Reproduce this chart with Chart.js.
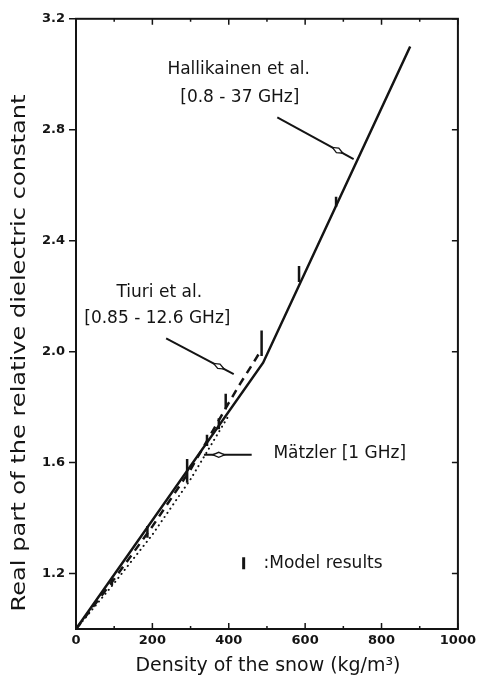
<!DOCTYPE html>
<html>
<head>
<meta charset="utf-8">
<script src="https://cdn.jsdelivr.net/npm/chart.js@4"></script>
<style>
  html, body { margin: 0; background: #fff; }
  #wrap { width: 480px; height: 677px; }
</style>
</head>
<body>
<div id="wrap"><canvas id="snowChart"></canvas></div>
<script>
const ink = "#141414";

// axis ticks
const xTicks = [0, 200, 400, 600, 800, 1000];
const xMinorTicks = [100, 300, 500, 700, 900];
const yTicks = [1.2, 1.6, 2.0, 2.4, 2.8, 3.2];

// Hallikainen et al. [0.8 - 37 GHz]
const hallDensity = [0, 490, 875];
const hallEps = [1.0, 1.96, 3.10];

// Tiuri et al. [0.85 - 12.6 GHz]
const tiuriDensity = [0, 100, 200, 300, 400, 430, 460, 480];
const tiuriEps = [1.0, 1.18, 1.37, 1.575, 1.815, 1.885, 1.95, 1.995];

// Mätzler [1 GHz]
const matzDensity = [0, 100, 200, 300, 400];
const matzEps = [1.0, 1.165, 1.34, 1.54, 1.77];

// model results: centre and half spread
const modelDensity = [94, 187, 291, 343, 374, 392, 486, 584, 681];
const modelEps = [1.17, 1.35, 1.57, 1.68, 1.74, 1.82, 2.03, 2.28, 2.54];
const modelSpread = [0.012, 0.021, 0.043, 0.02, 0.02, 0.028, 0.046, 0.029, 0.018];

const toPoints = (xs, ys) => xs.map((x, i) => ({ x, y: ys[i] }));

// texts and arrows, placed in data coordinates
const notes = [
  { text: "Hallikainen et al.", x: 426, y: 3.017, align: "center" },
  { text: "[0.8 - 37 GHz]", x: 429, y: 2.917, align: "center" },
  { text: "Tiuri et al.", x: 218, y: 2.213, align: "center" },
  { text: "[0.85 - 12.6 GHz]", x: 213, y: 2.12, align: "center" },
  { text: "Mätzler [1 GHz]", x: 517, y: 1.632, align: "left" },
  { text: ":Model results", x: 491, y: 1.237, align: "left" }
];
const arrows = [
  { from: [527, 2.845], to: [727, 2.694], at: 0.79 },
  { from: [236, 2.048], to: [413, 1.919], at: 0.78 },
  { from: [460, 1.628], to: [335, 1.628], at: 0.69 }
];

function stretchedText(ctx, text, cx, cy, size, len, rot) {
  ctx.save();
  ctx.font = size + "px 'DejaVu Sans'";
  const w = ctx.measureText(text).width;
  ctx.translate(cx, cy);
  ctx.rotate(rot);
  ctx.scale(len / w, 1);
  ctx.textAlign = "center";
  ctx.textBaseline = "middle";
  ctx.fillText(text, 0, 0);
  ctx.restore();
}

const paper = {
  id: "paper",
  afterDraw(chart) {
    const { ctx, chartArea: a, scales: { x, y } } = chart;
    const px = v => x.getPixelForValue(v);
    const py = v => y.getPixelForValue(v);
    ctx.save();
    ctx.strokeStyle = ink;
    ctx.fillStyle = ink;

    // frame
    ctx.lineWidth = 2;
    ctx.strokeRect(a.left, a.top, a.right - a.left, a.bottom - a.top);

    // tick marks
    ctx.beginPath();
    xTicks.concat(xMinorTicks).forEach(v => {
      const len = xTicks.includes(v) ? 6 : 3;
      ctx.moveTo(px(v), a.bottom); ctx.lineTo(px(v), a.bottom - len);
      ctx.moveTo(px(v), a.top); ctx.lineTo(px(v), a.top + len);
    });
    yTicks.forEach(v => {
      ctx.moveTo(a.left, py(v)); ctx.lineTo(a.left - 7, py(v));
      ctx.moveTo(a.right, py(v)); ctx.lineTo(a.right - 6, py(v));
    });
    ctx.lineWidth = 1.5;
    ctx.stroke();

    // arrows with open diamond heads
    arrows.forEach(ar => {
      const x0 = px(ar.from[0]), y0 = py(ar.from[1]);
      const x1 = px(ar.to[0]), y1 = py(ar.to[1]);
      ctx.beginPath();
      ctx.moveTo(x0, y0); ctx.lineTo(x1, y1);
      ctx.lineWidth = 2;
      ctx.stroke();
      const d = Math.hypot(x1 - x0, y1 - y0);
      const ux = (x1 - x0) / d, uy = (y1 - y0) / d;
      const cx = x0 + (x1 - x0) * ar.at, cy = y0 + (y1 - y0) * ar.at;
      ctx.beginPath();
      ctx.moveTo(cx - ux * 6, cy - uy * 6);
      ctx.lineTo(cx - uy * 2.5, cy + ux * 2.5);
      ctx.lineTo(cx + ux * 6, cy + uy * 6);
      ctx.lineTo(cx + uy * 2.5, cy - ux * 2.5);
      ctx.closePath();
      ctx.fillStyle = "#fff";
      ctx.fill();
      ctx.lineWidth = 1.3;
      ctx.stroke();
    });

    // annotations
    ctx.fillStyle = ink;
    ctx.font = "17px 'DejaVu Sans'";
    ctx.textBaseline = "middle";
    notes.forEach(n => {
      ctx.textAlign = n.align;
      ctx.fillText(n.text, px(n.x), py(n.y));
    });

    // legend mark for the model results
    ctx.beginPath();
    ctx.moveTo(px(439), py(1.237) - 6);
    ctx.lineTo(px(439), py(1.237) + 6);
    ctx.lineWidth = 3;
    ctx.stroke();

    // axis titles
    stretchedText(ctx, "Density of the snow (kg/m³)", 268, 666, 19, 265, 0);
    stretchedText(ctx, "Real part of the relative dielectric constant", 20, 353, 19, 517, -Math.PI / 2);
    ctx.restore();
  }
};

const tickFont = { family: "DejaVu Sans", size: 13, weight: "bold" };

new Chart(document.getElementById("snowChart"), {
  type: "scatter",
  data: {
    datasets: [
      {
        label: "Mätzler",
        data: toPoints(matzDensity, matzEps),
        showLine: true,
        borderColor: ink,
        borderWidth: 2,
        borderDash: [0.1, 5],
        borderCapStyle: "round",
        pointRadius: 0
      },
      {
        label: "Tiuri et al.",
        data: toPoints(tiuriDensity, tiuriEps),
        showLine: true,
        borderColor: ink,
        borderWidth: 2.5,
        borderDash: [8, 6],
        pointRadius: 0
      },
      {
        label: "Hallikainen et al.",
        data: toPoints(hallDensity, hallEps),
        showLine: true,
        borderColor: ink,
        borderWidth: 2.5,
        pointRadius: 0
      },
      {
        label: "Model results",
        data: toPoints(modelDensity, modelEps),
        showLine: false,
        pointStyle: "line",
        rotation: 90,
        borderColor: ink,
        pointBorderWidth: 2.5,
        pointRadius: c => {
          const ys = c.chart.scales.y;
          const i = c.dataIndex;
          if (!ys || i === undefined) return 5;
          return (ys.getPixelForValue(modelEps[i] - modelSpread[i]) -
                  ys.getPixelForValue(modelEps[i] + modelSpread[i])) / 2;
        }
      }
    ]
  },
  options: {
    responsive: true,
    maintainAspectRatio: false,
    animation: false,
    layout: { padding: { top: 16, right: 19, left: 0, bottom: 0 } },
    plugins: { legend: { display: false }, tooltip: { enabled: false } },
    scales: {
      x: {
        type: "linear",
        min: 0,
        max: 1000,
        grid: { display: false, drawTicks: false },
        border: { display: false },
        afterBuildTicks: s => { s.ticks = xTicks.map(v => ({ value: v })); },
        afterFit: s => { s.height = 48; },
        ticks: { color: ink, font: tickFont, padding: 4, maxRotation: 0, callback: v => String(v) }
      },
      y: {
        type: "linear",
        min: 1.0,
        max: 3.2,
        grid: { display: false, drawTicks: false },
        border: { display: false },
        afterBuildTicks: s => { s.ticks = yTicks.map(v => ({ value: v })); },
        afterFit: s => { s.width = 76; },
        ticks: { color: ink, font: tickFont, padding: 11, callback: v => v.toFixed(1) }
      }
    }
  },
  plugins: [paper]
});
</script>
</body>
</html>
